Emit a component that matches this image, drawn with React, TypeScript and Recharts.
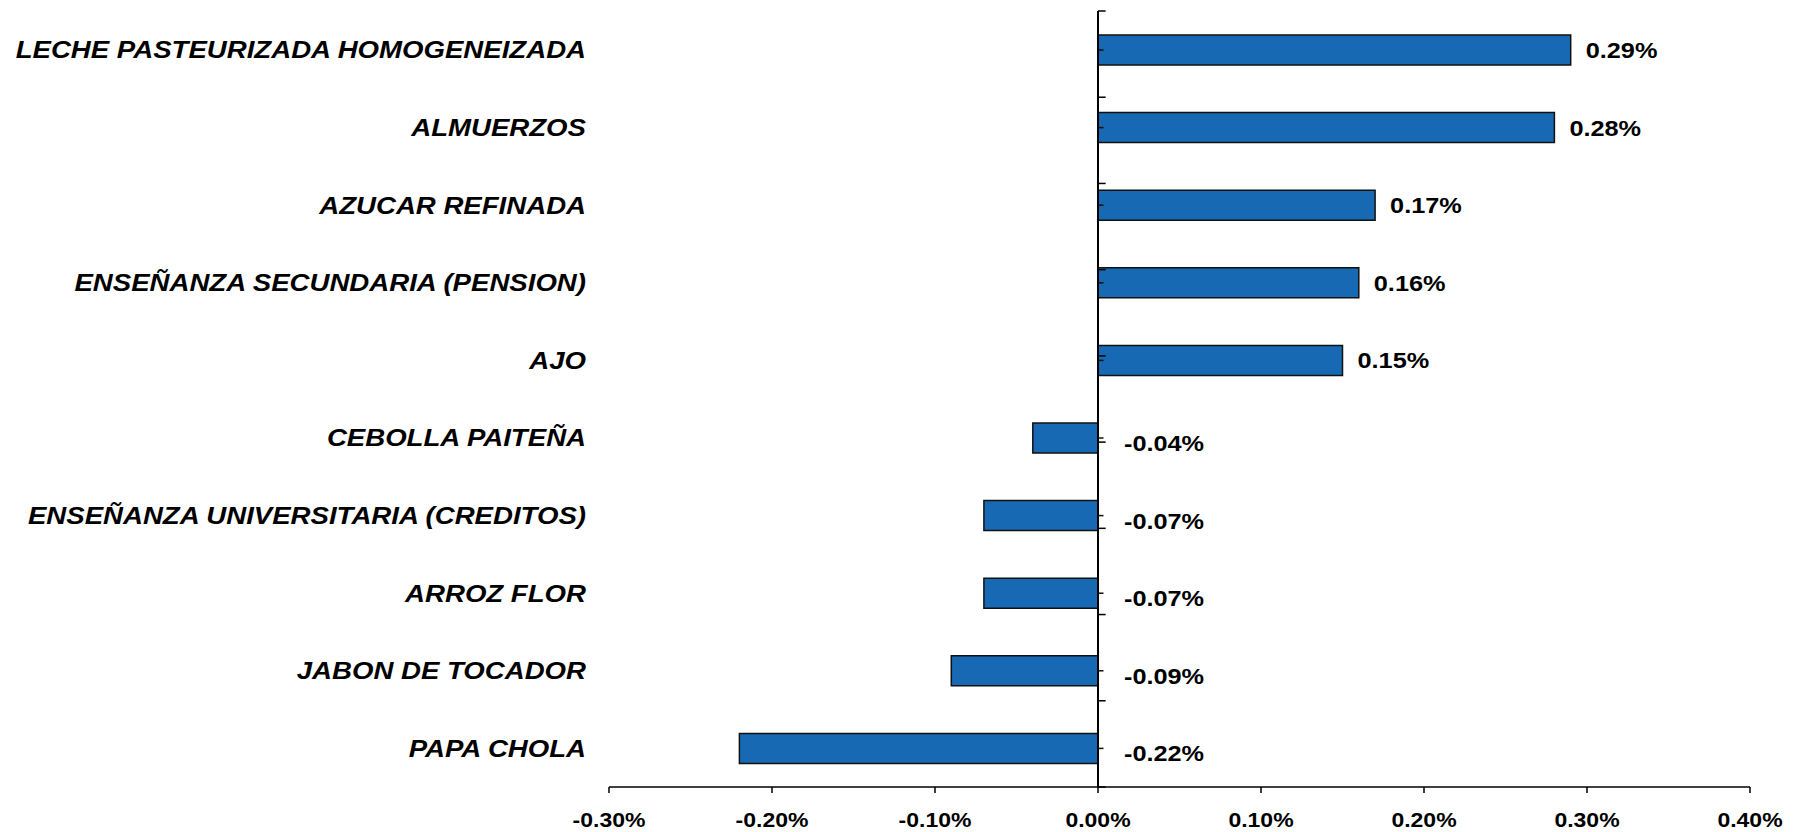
import React from 'react';
import { BarChart, Bar, XAxis, YAxis, ReferenceLine, LabelList } from 'recharts';

const categories = [
  'LECHE PASTEURIZADA HOMOGENEIZADA',
  'ALMUERZOS',
  'AZUCAR REFINADA',
  'ENSEÑANZA SECUNDARIA (PENSION)',
  'AJO',
  'CEBOLLA PAITEÑA',
  'ENSEÑANZA UNIVERSITARIA (CREDITOS)',
  'ARROZ FLOR',
  'JABON DE TOCADOR',
  'PAPA CHOLA',
];
const values = [0.29, 0.28, 0.17, 0.16, 0.15, -0.04, -0.07, -0.07, -0.09, -0.22];
const xTicks = [-0.3, -0.2, -0.1, 0, 0.1, 0.2, 0.3, 0.4];

const data = categories.map((name, i) => ({ name, value: values[i] }));

// category boundaries on the zero axis (0..10)
const boundaries = Array.from({ length: categories.length + 1 }, (_, i) => i);

const FONT = '"Liberation Sans", Arial, sans-serif';
const BAR_FILL = '#1769B3';
const STRETCH = 1.15;

const CatTick = (props: any) => {
  const { x, y, payload } = props;
  return (
    <text
      transform={`translate(${x},${y}) scale(${STRETCH},1)`}
      x={0}
      y={0}
      dy="0.36em"
      textAnchor="end"
      fontFamily={FONT}
      fontSize={24}
      fontWeight="bold"
      fontStyle="italic"
      fill="#000"
    >
      {payload.value}
    </text>
  );
};

const XTick = (props: any) => {
  const { x, y, payload } = props;
  return (
    <text
      transform={`translate(${x},${y}) scale(${STRETCH},1)`}
      x={0}
      y={0}
      dy="0.71em"
      textAnchor="middle"
      fontFamily={FONT}
      fontSize={20}
      fontWeight="bold"
      fill="#000"
    >
      {`${Number(payload.value).toFixed(2)}%`}
    </text>
  );
};

const renderValueLabel = (props: any) => {
  const { x, y, width, height, value } = props;
  const left = Math.min(x, x + width);
  const right = Math.max(x, x + width);
  const neg = value < 0;
  const zero = neg ? right : left;
  const cy = y + height / 2;
  const tx = neg ? right + 26 : right + 15;
  const ty = cy + (neg ? 5 : 0);
  return (
    <g>
      <line x1={zero} x2={zero + 5.5} y1={cy} y2={cy} stroke="#111" strokeWidth={1.5} />
      <text
        transform={`translate(${tx},${ty}) scale(${STRETCH},1)`}
        x={0}
        y={0}
        dy="0.36em"
        textAnchor="start"
        fontFamily={FONT}
        fontSize={22}
        fontWeight="bold"
        fill="#000"
      >
        {`${Number(value).toFixed(2)}%`}
      </text>
    </g>
  );
};

export default function App() {
  return (
    <div style={{ width: 1795, height: 824, background: '#fff' }}>
      <BarChart
        width={1795}
        height={824}
        data={data}
        layout="vertical"
        margin={{ top: 3, right: 53, bottom: 5, left: 0 }}
      >
        <XAxis
          type="number"
          domain={[-0.3, 0.4]}
          ticks={xTicks}
          allowDataOverflow
          axisLine={{ stroke: '#000', strokeWidth: 1.5 }}
          tickLine={{ stroke: '#000', strokeWidth: 1.5 }}
          tickSize={6}
          tickMargin={20}
          height={40}
          tick={<XTick />}
        />
        <YAxis
          yAxisId="cat"
          type="category"
          dataKey="name"
          width={601}
          axisLine={false}
          tickLine={false}
          tickSize={0}
          tickMargin={23}
          interval={0}
          tick={<CatTick />}
        />
        <YAxis
          yAxisId="n"
          type="number"
          domain={[0, categories.length]}
          allowDataOverflow
          reversed
          hide
        />
        <Bar
          yAxisId="cat"
          dataKey="value"
          fill={BAR_FILL}
          stroke="#111"
          strokeWidth={1.5}
          barSize={30}
          isAnimationActive={false}
        >
          <LabelList dataKey="value" content={renderValueLabel} />
        </Bar>
        <ReferenceLine yAxisId="n" x={0} stroke="#000" strokeWidth={2} />
        {boundaries.map((s) => (
          <ReferenceLine
            key={s}
            yAxisId="n"
            stroke="#000"
            strokeWidth={1.5}
            segment={[
              { x: 0, y: s },
              { x: 0.0047, y: s },
            ]}
          />
        ))}
      </BarChart>
    </div>
  );
}
